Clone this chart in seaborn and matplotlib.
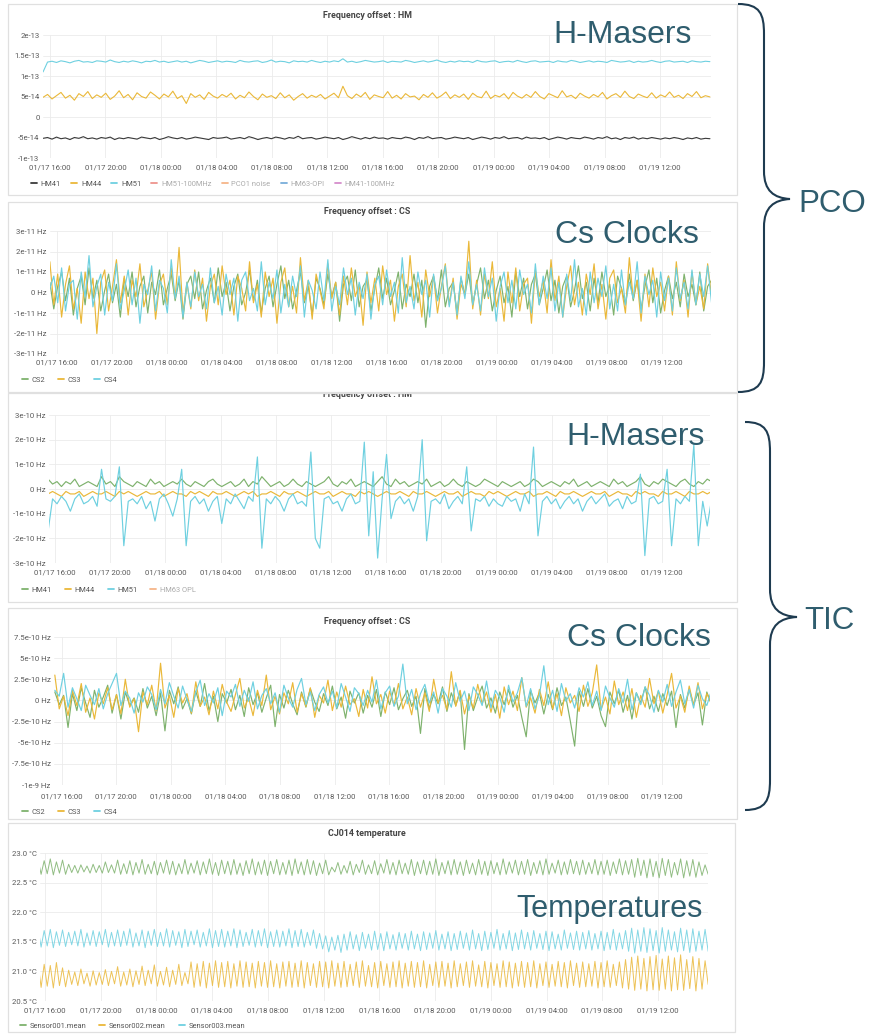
import numpy as np
import matplotlib
matplotlib.use('Agg')
import matplotlib.pyplot as plt
import seaborn as sns
from matplotlib.patches import Rectangle, PathPatch
from matplotlib.path import Path
from matplotlib.lines import Line2D
from matplotlib.transforms import Affine2D

W, H = 869, 1035
sns.set_theme(style='white')
plt.rcParams['font.family'] = ['Roboto', 'DejaVu Sans']

# ---------------- shared time axis (hours since 01/17 00:00) ----------------
T_START, T_END = 15.5, 63.6
TICK_HOURS = [16, 20, 24, 28, 32, 36, 40, 44, 48, 52, 56, 60]
TICK_LABELS = ["01/17 16:00", "01/17 20:00", "01/18 00:00", "01/18 04:00",
               "01/18 08:00", "01/18 12:00", "01/18 16:00", "01/18 20:00",
               "01/19 00:00", "01/19 04:00", "01/19 08:00", "01/19 12:00"]

# ---------------- Panel 1: PCO frequency offset HM (units 1e-15) ----------------
pco_hm51 = [110,134,136,133,137,135,132,136,138,134,135,133,137,136,134,139,135,133,136,134,
            137,135,132,136,135,138,134,136,133,135,137,134,136,132,135,138,136,133,135,137,
            134,136,135,133,138,135,134,136,137,133,135,139,134,136,135,132,137,135,136,134,
            138,135,133,136,134,137,135,142,134,136,133,135,138,136,134,135,137,133,136,135,
            134,138,136,133,135,137,134,136,139,135,133,136,134,137,135,136,133,138,135,134,
            136,137,133,135,136,134,138,135,133,136,137,134,135,136,133,137,135,134,138,136,
            133,135,137,134,136,135,133,138,136,134,135,137,133,136,134,135,138,135,133,136,
            137,134,135,136,133,137,135,134,136,135]
pco_hm44 = [48,55,44,52,60,46,53,41,57,50,62,45,54,48,58,43,51,64,47,55,
            42,59,50,46,61,53,44,56,49,63,45,52,33,57,48,54,43,60,51,46,
            55,49,58,44,53,47,61,50,42,56,48,52,45,59,47,54,41,50,57,46,
            53,48,55,44,51,58,47,75,52,45,56,49,60,43,54,50,47,62,46,53,
            44,57,49,51,42,55,48,59,46,52,61,45,54,48,56,43,58,50,47,63,
            45,53,49,57,44,60,51,46,55,48,62,50,44,57,52,47,64,49,53,45,
            58,51,46,55,49,60,44,52,57,48,63,50,45,56,51,47,59,46,54,49,
            61,48,53,45,57,50,62,47,52,49]
pco_hm41 = [-52,-50,-54,-49,-53,-51,-55,-50,-52,-48,-53,-51,-54,-50,-52,-49,-55,-51,-53,-50,
            -52,-54,-49,-51,-53,-50,-55,-52,-48,-51,-53,-50,-54,-52,-49,-51,-53,-55,-50,-52,
            -51,-49,-54,-52,-50,-53,-48,-51,-55,-52,-50,-53,-49,-51,-54,-50,-52,-47,-53,-51,
            -50,-54,-52,-49,-51,-53,-50,-55,-52,-48,-51,-54,-50,-53,-49,-52,-51,-54,-50,-52,
            -53,-49,-51,-55,-50,-52,-48,-53,-51,-50,-54,-52,-49,-51,-53,-50,-55,-52,-49,-51,
            -54,-50,-52,-48,-53,-51,-50,-54,-49,-52,-51,-53,-50,-55,-52,-49,-51,-54,-50,-52,
            -53,-49,-51,-54,-50,-52,-48,-53,-51,-55,-50,-52,-49,-54,-51,-53,-50,-52,-54,-51,
            -53,-50,-52,-55,-51,-53,-50,-54,-52,-53]

# ---------------- Panel 2: PCO frequency offset CS (units 1e-12) ----------------
pco_cs2 = [5,-8,3,10,-4,7,-11,2,8,-6,12,-3,6,-9,1,9,-5,4,-12,7,
           -2,10,-7,3,8,-10,5,-1,11,-6,2,9,-4,6,-13,4,8,-3,10,-8,
           1,7,-5,12,-2,5,-9,3,9,-6,0,11,-4,6,-10,2,8,-7,4,13,
           -3,6,-8,1,10,-5,3,-11,7,2,-6,9,-2,5,-14,4,8,-4,11,-7,
           3,6,-9,2,12,-3,7,-6,1,10,-8,4,-2,9,-5,6,-17,3,8,-4,
           11,-7,2,5,-10,7,-1,9,-6,4,12,-3,6,-9,1,8,-5,3,-12,10,
           -2,7,-8,4,9,-6,2,11,-4,6,-10,3,8,-7,1,13,-3,5,-9,7,
           -5,10,-2,4,-11,8,2,-6,9,-4,6,-8,3,11,-5,7,-10,1,8,-3,
           5,-7,9,-2,4,-6,10,-9,3,6]
pco_cs3 = [15,-6,9,-12,4,13,-8,2,-15,10,-3,7,-20,5,11,-9,3,16,-5,8,
           -11,6,-2,14,-7,1,10,-13,4,9,-6,12,-3,22,-10,5,-8,11,-4,7,
           -14,3,9,-6,13,-1,6,-11,8,2,-9,15,-5,4,-12,10,-2,7,-15,5,
           12,-7,3,-10,17,-4,6,-13,9,1,-8,14,-3,5,-11,8,-6,12,-2,4,
           -16,10,-5,7,-9,13,-1,6,-14,3,9,-7,18,-4,5,-12,11,-2,8,-10,
           3,14,-6,7,-13,4,-1,25,-8,6,-11,9,-3,15,-7,2,-14,10,-5,12,
           -9,4,7,-15,11,-2,6,-10,16,-4,8,-12,3,13,-6,5,-11,9,-1,14,
           -8,4,-13,7,11,-5,2,-10,17,-3,6,-14,9,-7,12,-2,5,-9,8,-11,
           15,-4,6,-12,10,-6,3,-8,14,-2]
pco_cs4 = [2,8,-5,12,-9,4,6,-13,10,-2,18,-7,3,9,-11,5,-4,14,-8,1,
           11,-6,7,-15,4,-1,13,-9,6,2,-10,16,-3,8,-12,5,-7,10,-2,4,
           -8,12,-5,3,-11,9,-1,7,-14,6,10,-4,2,-9,15,-6,5,-3,11,-10,
           4,-7,8,-2,13,-12,6,1,-8,10,-4,16,-9,3,-6,12,-1,7,-11,5,
           -3,9,-13,4,8,-6,11,-2,5,-10,17,-5,3,-8,10,-1,6,-12,9,-4,
           2,13,-7,5,-11,8,-3,15,-6,4,-9,12,-2,7,-14,3,10,-5,6,-8,
           11,-1,4,-10,14,-6,8,-3,12,-9,5,-12,9,-4,16,-7,2,-11,10,-5,
           7,-2,13,-8,4,-9,11,-6,5,-3,15,-10,8,-1,6,-12,10,-4,7,-9,
           12,-3,5,-8,11,-6,9,-2,13,-5]

# ---------------- Panel 3: TIC frequency offset HM (units 1e-11) ----------------
tic_hm41 = [4,2,3,1,3,2,4,1,2,3,2,1,5,2,3,1,5,3,2,1,
            3,2,1,4,2,3,1,2,3,2,4,2,1,3,2,1,3,4,2,1,
            2,3,1,2,4,1,3,2,5,3,1,2,3,1,2,4,2,1,3,2,
            1,2,3,5,2,1,3,2,4,1,2,3,2,1,3,5,2,1,4,2,
            3,1,2,3,2,4,1,2,3,1,2,4,2,1,3,2,1,2,4,3,
            2,1,3,2,1,2,3,1,2,4,3,1,2,3,2,1,3,2,4,1,
            2,3,1,2,3,2,1,4,2,3,1,2,3,5,2,1,3,2,4,3,
            2,1,3,4,2,1,3,2,4,3]
tic_hm44 = [-2,-1,-2,-3,-1,-2,-2,-1,-3,-2,-1,-2,-2,-1,-2,-3,-1,-2,-1,-2,
            -3,-2,-1,-2,-2,-1,-3,-2,-1,-2,-2,-3,-1,-2,-1,-2,-3,-1,-2,-2,
            -1,-2,-3,-2,-1,-2,-1,-3,-2,-2,-1,-2,-3,-1,-2,-2,-1,-2,-3,-2,
            -1,-2,-2,-1,-3,-2,-1,-2,-2,-3,-1,-2,-1,-2,-3,-2,-1,-2,-2,-1,
            -2,-3,-1,-2,-2,-1,-2,-3,-2,-1,-2,-2,-1,-3,-2,-1,-2,-2,-3,-1,
            -2,-1,-2,-3,-2,-1,-2,-2,-1,-3,-2,-2,-1,-2,-3,-1,-2,-2,-1,-2,
            -3,-2,-1,-2,-2,-1,-3,-2,-1,-2,-2,-3,-1,-2,-1,-2,-2,-3,-1,-2,
            -2,-1,-2,-3,-1,-2,-2,-1,-2,-1]
tic_hm51 = [-17,-4,-6,-3,-5,-9,-4,-2,-6,-5,-3,-7,8,-4,-5,-3,9,-23,-5,-4,
            -6,-3,-8,-5,-13,-4,-2,-6,-11,-4,8,-23,-5,-3,-6,-4,-9,-5,-3,-14,
            -4,-6,-2,-5,-8,-3,-5,13,-24,-4,-6,-3,-5,-9,-4,-2,-6,-5,-7,15,
            -20,-24,-4,-3,-6,-5,-9,-4,-2,-6,-5,19,-19,7,-28,-4,14,-12,-5,-3,
            -6,-4,-9,-3,20,-21,-5,-4,-6,-2,-8,-5,-3,-6,9,-17,-4,-5,-3,-7,
            -4,-6,-7,-3,-5,-4,-9,-2,-6,17,-19,-5,-3,-6,-4,-8,-5,-3,-6,-4,
            -9,-5,-3,-6,-4,-2,-7,-5,-4,-8,-3,-6,-5,6,-27,-4,-3,-6,-5,8,
            -23,-4,-6,-3,-5,18,-23,-5,-15,-4]

# ---------------- Panel 4: TIC frequency offset CS (units 1e-11) ----------------
tic_cs2 = [10,-5,6,-32,8,-12,15,-3,-20,12,-8,4,18,-15,7,-22,10,-6,3,-14,
           14,-9,5,-18,9,-36,12,-4,16,-10,2,-16,11,-7,20,-12,5,-25,8,-3,
           13,-11,6,-19,15,-5,9,-14,3,18,-31,7,-9,12,-4,-17,10,-8,14,-2,
           -13,8,-6,17,-10,4,-21,11,-3,9,-15,6,-8,13,-19,10,-5,15,-11,2,
           12,-7,5,-39,14,-10,7,-4,16,-13,9,-6,11,-58,8,-12,4,17,-9,3,
           -15,10,-5,13,-8,6,-20,-43,12,-3,9,-16,7,-11,15,-6,4,-24,-54,11,
           -7,14,-9,5,-18,-31,10,-4,12,-14,6,-22,9,-3,16,-10,5,-13,8,-6,
           11,-32,7,-9,13,-5,9,-29,10,-4]
tic_cs3 = [30,-10,5,-18,12,-6,20,-14,3,-22,9,-4,15,-11,7,-16,25,-8,2,-37,
           10,-5,18,-12,44,-9,6,-20,14,-3,8,-15,22,-7,4,-17,11,-10,19,-2,
           -13,7,26,-9,3,-18,12,-6,30,-11,5,-16,9,-4,21,-14,8,-7,15,-20,
           6,-3,24,-12,10,-8,17,-5,2,-19,13,-9,28,-4,7,-15,11,-6,20,-10,
           4,-17,14,-8,9,-13,25,-3,6,-11,34,-7,12,-16,5,-9,19,-4,10,-14,
           7,-21,16,-5,11,-12,27,-8,3,-15,13,-6,22,-10,8,-18,15,-3,6,-13,
           18,-7,9,42,-11,4,-16,23,-5,10,-12,14,-20,6,-8,26,-4,11,-15,7,
           32,-9,5,-14,17,-6,21,-10,8,-3]
tic_cs4 = [12,5,32,-8,15,2,-12,18,6,-5,14,-10,8,20,32,-6,11,3,-15,9,
           -2,16,7,-11,13,-4,21,5,-9,17,1,-13,10,24,-6,8,-3,15,-18,11,
           4,19,-7,12,-1,22,-10,6,14,-4,9,-14,18,3,-8,13,26,-5,10,-12,
           7,16,-3,11,-9,20,4,-13,15,8,-6,12,-2,24,-10,9,17,-7,5,43,
           -4,13,-11,8,19,-3,10,-15,14,5,-8,21,-1,11,-12,16,7,-6,23,-9,
           12,3,-14,18,-2,9,27,-7,14,-10,6,41,-5,12,-13,20,-1,8,-9,15,
           4,22,-6,11,-12,17,3,-8,14,-3,25,-11,9,-5,16,6,-14,12,-2,19,
           -7,10,24,-4,13,-9,18,2,-6,11]

# ---------------- Panel 5: CJ014 temperature (units 0.01 degC) ----------------
temp_s1 = [2289,2264,2287,2265,2290,2263,2285,2266,2288,2264,2281,2267,2279,2266,2280,2268,2278,2266,2281,2267,
           2279,2266,2285,2267,2280,2266,2288,2264,2282,2265,2287,2263,2284,2266,2289,2264,2281,2265,2286,2263,
           2284,2266,2288,2264,2286,2263,2282,2265,2289,2264,2283,2266,2287,2263,2285,2265,2290,2264,2284,2262,
           2288,2265,2286,2263,2289,2264,2283,2262,2287,2265,2290,2263,2285,2264,2288,2262,2286,2265,2289,2263,
           2284,2264,2288,2262,2290,2265,2285,2263,2289,2264,2287,2262,2283,2265,2288,2263,2276,2268,2284,2264,
           2279,2266,2286,2263,2281,2267,2288,2264,2280,2265,2287,2263,2282,2266,2289,2264,2284,2263,2288,2265,
           2283,2264,2289,2262,2285,2265,2288,2263,2286,2264,2290,2262,2284,2265,2287,2263,2289,2264,2285,2262,
           2288,2265,2283,2263,2289,2264,2286,2262,2287,2265,2284,2263,2290,2264,2285,2266,2288,2263,2286,2264,
           2289,2262,2284,2265,2287,2263,2290,2264,2283,2266,2288,2263,2285,2264,2289,2265,2286,2263,2288,2264,
           2284,2265,2289,2263,2286,2264,2288,2262,2285,2265,2290,2263,2287,2264,2289,2259,2291,2262,2288,2258,
           2290,2260,2286,2258,2291,2262,2289,2259,2284,2263,2290,2258,2287,2261,2289,2259,2285,2262,2280,2264]
temp_s2 = [2114,2073,2112,2075,2110,2072,2115,2076,2106,2074,2102,2078,2099,2076,2104,2079,2097,2075,2101,2077,
           2098,2078,2103,2076,2100,2079,2108,2075,2099,2077,2104,2074,2101,2078,2109,2076,2102,2079,2111,2075,
           2100,2077,2107,2074,2102,2078,2112,2076,2098,2079,2116,2073,2113,2075,2117,2072,2114,2076,2118,2073,
           2115,2074,2117,2072,2113,2075,2118,2073,2116,2074,2114,2072,2117,2075,2115,2073,2118,2074,2113,2072,
           2116,2075,2117,2073,2114,2074,2118,2072,2115,2076,2113,2073,2117,2074,2116,2072,2118,2075,2114,2073,
           2117,2074,2112,2076,2116,2073,2118,2075,2110,2074,2115,2072,2117,2076,2113,2073,2116,2074,2118,2072,
           2114,2075,2117,2073,2115,2074,2118,2072,2112,2076,2116,2073,2117,2075,2114,2072,2118,2074,2113,2076,
           2116,2073,2118,2075,2111,2074,2117,2072,2115,2076,2113,2073,2118,2074,2116,2072,2114,2075,2117,2073,
           2115,2074,2118,2072,2113,2076,2116,2073,2112,2075,2117,2074,2115,2072,2118,2076,2114,2073,2116,2074,
           2113,2075,2117,2072,2115,2074,2118,2073,2112,2076,2116,2072,2120,2070,2124,2068,2126,2070,2122,2067,
           2125,2069,2127,2068,2121,2070,2126,2067,2123,2069,2128,2068,2120,2071,2125,2067,2122,2070,2118,2078]
temp_s3 = [2172,2141,2169,2143,2171,2140,2167,2144,2170,2142,2166,2145,2168,2143,2171,2141,2165,2144,2169,2142,
           2167,2145,2171,2141,2166,2143,2170,2142,2168,2144,2172,2141,2165,2143,2170,2140,2168,2144,2171,2142,
           2166,2143,2172,2141,2169,2144,2167,2140,2171,2142,2168,2145,2170,2141,2166,2143,2172,2140,2169,2142,
           2171,2141,2168,2143,2172,2140,2170,2142,2166,2144,2171,2141,2169,2143,2172,2140,2167,2142,2170,2141,
           2168,2143,2172,2140,2169,2142,2171,2141,2166,2144,2170,2139,2164,2138,2160,2133,2158,2136,2161,2132,
           2163,2136,2167,2138,2162,2135,2166,2139,2163,2136,2168,2137,2164,2135,2167,2138,2162,2136,2166,2139,
           2164,2136,2168,2138,2163,2135,2167,2137,2165,2139,2169,2136,2163,2138,2167,2135,2164,2137,2168,2139,
           2165,2136,2170,2138,2164,2135,2168,2137,2166,2139,2171,2136,2164,2138,2169,2135,2165,2137,2170,2138,
           2166,2136,2169,2139,2164,2137,2168,2135,2167,2138,2163,2136,2170,2139,2165,2137,2168,2136,2166,2138,
           2169,2136,2164,2138,2168,2135,2166,2137,2171,2136,2165,2138,2169,2134,2173,2131,2170,2134,2174,2132,
           2172,2135,2169,2131,2174,2134,2170,2136,2167,2133,2173,2135,2170,2132,2172,2134,2168,2136,2171,2134]

# ---------------- colours ----------------
GREEN, YELLOW, CYAN, DARK = '#7EB26D', '#EAB839', '#6ED0E0', '#3A3A3A'
RED, ORANGE, BLUE, PURPLE = '#E24D42', '#EF843C', '#1F78C1', '#BA43A9'
NOTE = '#2F5D6E'

fig = plt.figure(figsize=(W / 100, H / 100), dpi=100)
fig.patch.set_facecolor('white')
PX = Affine2D().scale(1 / W, -1 / H).translate(0, 1) + fig.transFigure


def panel(box, axpos, xlim, ylim, yticks, ylabels, title, title_y, series,
          legend_items, legend_xy, xpad, lw=0.85, alpha=1.0, colsp=1.7):
    x0, y0, x1, y1 = box
    fig.add_artist(Rectangle((x0, y0), x1 - x0, y1 - y0, transform=PX,
                             facecolor='white', edgecolor='none', zorder=-5))
    fig.add_artist(Rectangle((x0, y0), x1 - x0, y1 - y0, transform=PX,
                             facecolor='none', edgecolor='#E0E0E0', lw=0.9, zorder=6))
    l, r, t, b = axpos
    ax = fig.add_axes([l / W, 1 - b / H, (r - l) / W, (b - t) / H])
    ax.set_facecolor('none')
    for vals, scale, color in series:
        tt = np.linspace(T_START, T_END, len(vals))
        sns.lineplot(x=tt, y=np.asarray(vals, dtype=float) * scale, ax=ax,
                     color=color, linewidth=lw, alpha=alpha, legend=False,
                     estimator=None, errorbar=None, sort=False)
    ax.set_xlim(*xlim)
    ax.set_ylim(*ylim)
    ax.set_xticks(TICK_HOURS)
    ax.set_xticklabels(TICK_LABELS)
    ax.set_yticks(yticks)
    ax.set_yticklabels(ylabels)
    ax.set_xlabel('')
    ax.set_ylabel('')
    ax.grid(True, color='#EBEBEB', linewidth=0.6)
    ax.set_axisbelow(True)
    for s in ax.spines.values():
        s.set_visible(False)
    ax.tick_params(axis='x', length=0, labelsize=5.6, colors='#5A5A5A', pad=xpad)
    ax.tick_params(axis='y', length=0, labelsize=5.6, colors='#5A5A5A', pad=2.5)
    fig.text(((x0 + x1) / 2 - 5) / W, 1 - title_y / H, title, ha='center', va='center',
             fontsize=6.4, fontweight='bold', color='#444444', zorder=3)
    handles = [Line2D([], [], color=c, lw=1.3, alpha=1.0 if act else 0.6)
               for _, c, act in legend_items]
    leg = fig.legend(handles, [n for n, _, _ in legend_items], loc='center left',
                     bbox_to_anchor=(legend_xy[0] / W, 1 - legend_xy[1] / H),
                     ncol=len(legend_items), frameon=False, fontsize=5.4,
                     handlelength=0.8, handletextpad=0.5, columnspacing=colsp,
                     borderaxespad=0, borderpad=0)
    for txt, (_, _, act) in zip(leg.get_texts(), legend_items):
        txt.set_color('#555555' if act else '#AAAAAA')
    return ax


# Panel 1
panel((8, 4, 737, 195), (43, 711, 35, 158), (15.495, 63.68), (-1e-13, 2e-13),
      [2e-13, 1.5e-13, 1e-13, 5e-14, 0, -5e-14, -1e-13],
      ["2e-13", "1.5e-13", "1e-13", "5e-14", "0", "-5e-14", "-1e-13"],
      "Frequency offset : HM", 15,
      [(pco_hm41, 1e-15, DARK), (pco_hm44, 1e-15, YELLOW), (pco_hm51, 1e-15, CYAN)],
      [("HM41", DARK, True), ("HM44", YELLOW, True), ("HM51", CYAN, True),
       ("HM51-100MHz", RED, False), ("PCO1 noise", ORANGE, False),
       ("HM63-OPI", BLUE, False), ("HM41-100MHz", PURPLE, False)],
      (31, 184), 4.5, lw=0.8, colsp=1.35)

# Panel 2
panel((8, 202, 737, 392), (50, 711, 231, 354), (15.51, 63.56), (-3e-11, 3e-11),
      [3e-11, 2e-11, 1e-11, 0, -1e-11, -2e-11, -3e-11],
      ["3e-11 Hz", "2e-11 Hz", "1e-11 Hz", "0 Hz", "-1e-11 Hz", "-2e-11 Hz", "-3e-11 Hz"],
      "Frequency offset : CS", 212,
      [(pco_cs2, 1e-12, GREEN), (pco_cs3, 1e-12, YELLOW), (pco_cs4, 1e-12, CYAN)],
      [("CS2", GREEN, True), ("CS3", YELLOW, True), ("CS4", CYAN, True)],
      (22, 380), 3.8)

# Panel 3
panel((8, 393, 737, 602), (49, 710, 415, 563), (15.565, 63.48), (-3e-10, 3e-10),
      [3e-10, 2e-10, 1e-10, 0, -1e-10, -2e-10, -3e-10],
      ["3e-10 Hz", "2e-10 Hz", "1e-10 Hz", "0 Hz", "-1e-10 Hz", "-2e-10 Hz", "-3e-10 Hz"],
      "Frequency offset : HM", 394.5,
      [(tic_hm41, 1e-11, GREEN), (tic_hm44, 1e-11, YELLOW), (tic_hm51, 1e-11, CYAN)],
      [("HM41", GREEN, True), ("HM44", YELLOW, True), ("HM51", CYAN, True),
       ("HM63 OPL", ORANGE, False)],
      (22, 590), 5)
# the reference crops the top of this panel's title
fig.add_artist(Rectangle((8, 383), 729, 10.0, transform=PX, facecolor='white',
                         edgecolor='none', zorder=4))

# Panel 4
panel((8, 608, 737, 819), (54, 710, 637, 785), (15.44, 63.51), (-1e-9, 7.5e-10),
      [7.5e-10, 5e-10, 2.5e-10, 0, -2.5e-10, -5e-10, -7.5e-10, -1e-9],
      ["7.5e-10 Hz", "5e-10 Hz", "2.5e-10 Hz", "0 Hz", "-2.5e-10 Hz", "-5e-10 Hz",
       "-7.5e-10 Hz", "-1e-9 Hz"],
      "Frequency offset : CS", 622,
      [(tic_cs2, 1e-11, GREEN), (tic_cs3, 1e-11, YELLOW), (tic_cs4, 1e-11, CYAN)],
      [("CS2", GREEN, True), ("CS3", YELLOW, True), ("CS4", CYAN, True)],
      (22, 812), 6)

# Panel 5
panel((8, 823, 735, 1032), (40, 708, 853, 1001), (15.64, 63.59), (20.5, 23.0),
      [23.0, 22.5, 22.0, 21.5, 21.0, 20.5],
      ["23.0 °C", "22.5 °C", "22.0 °C", "21.5 °C", "21.0 °C", "20.5 °C"],
      "CJ014 temperature", 834,
      [(temp_s1, 0.01, GREEN), (temp_s2, 0.01, YELLOW), (temp_s3, 0.01, CYAN)],
      [("Sensor001.mean", GREEN, True), ("Sensor002.mean", YELLOW, True),
       ("Sensor003.mean", CYAN, True)],
      (20, 1026), 4.5, lw=0.7, alpha=0.85)

# ---------------- annotations ----------------
def note(x, y, s, size=23):
    fig.text(x / W, 1 - y / H, s, ha='left', va='baseline', fontsize=size,
             family=['Liberation Sans', 'DejaVu Sans'], color=NOTE, zorder=7)

note(553, 43, "H-Masers")
note(555, 243, "Cs Clocks")
note(566, 445, "H-Masers")
note(567, 646, "Cs Clocks")
note(516, 917, "Temperatures", 22)
note(798, 212, "PCO", 22.5)
note(804, 629, "TIC", 22.5)


def brace(xe, xs, xp, ytop, ymid, ybot):
    verts = [(xe, ytop), (xs - 4, ytop), (xs, ytop + 10), (xs, ytop + 30),
             (xs, ymid - 28),
             (xs, ymid - 8), (xs + 10, ymid - 1), (xp, ymid),
             (xs + 10, ymid + 1), (xs, ymid + 8), (xs, ymid + 28),
             (xs, ybot - 30),
             (xs, ybot - 10), (xs - 4, ybot), (xe, ybot)]
    codes = [Path.MOVETO, Path.CURVE4, Path.CURVE4, Path.CURVE4,
             Path.LINETO,
             Path.CURVE4, Path.CURVE4, Path.CURVE4,
             Path.CURVE4, Path.CURVE4, Path.CURVE4,
             Path.LINETO,
             Path.CURVE4, Path.CURVE4, Path.CURVE4]
    fig.add_artist(PathPatch(Path(verts, codes), transform=PX, facecolor='none',
                             edgecolor='#1E3B50', lw=1.5, zorder=7))

brace(738, 764, 790, 4, 199, 392)
brace(745, 770, 797, 422, 617, 810)

fig.savefig('out.png', dpi=100, facecolor='white')
